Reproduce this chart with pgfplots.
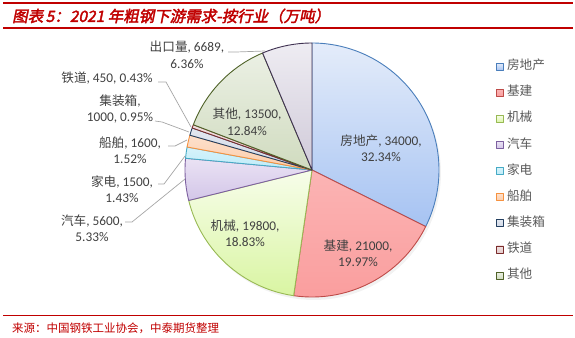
\documentclass[border=0pt]{standalone}
\usepackage{pgfplots}
\pgfplotsset{compat=1.18}
\usepackage{fontspec}
\setmainfont{Carlito}
\newfontfamily\cjk{Noto Sans CJK SC}[Scale=0.95]
\newfontfamily\titlefont{Noto Sans CJK SC}[FakeSlant=0.2,FakeBold=2.5]
\newfontfamily\footfont{Noto Sans CJK SC}

\definecolor{titlered}{HTML}{C00000}
\definecolor{labgray}{HTML}{404040}
\definecolor{leggray}{HTML}{595959}
\definecolor{leader}{HTML}{A6A6A6}
% slice colours: top, bottom, border
\definecolor{aT}{HTML}{E4ECFA}\definecolor{aB}{HTML}{A6C3F2}\definecolor{aD}{HTML}{4A7EBB}
\definecolor{bT}{HTML}{FBB4B4}\definecolor{bB}{HTML}{FA9E9E}\definecolor{bD}{HTML}{BE4B48}
\definecolor{cT}{HTML}{F7FDEA}\definecolor{cB}{HTML}{D9F5A2}\definecolor{cD}{HTML}{98B954}
\definecolor{dT}{HTML}{EAE2F4}\definecolor{dB}{HTML}{D3C6E8}\definecolor{dD}{HTML}{7D60A0}
\definecolor{eT}{HTML}{D6F3FB}\definecolor{eB}{HTML}{BDEBF8}\definecolor{eD}{HTML}{46AAC5}
\definecolor{fT}{HTML}{FDE0CC}\definecolor{fB}{HTML}{FCCCA8}\definecolor{fD}{HTML}{F69240}
\definecolor{gT}{HTML}{E2E7F0}\definecolor{gB}{HTML}{D0D8E6}\definecolor{gD}{HTML}{254061}
\definecolor{hT}{HTML}{F0E0E0}\definecolor{hB}{HTML}{E4CCCC}\definecolor{hD}{HTML}{7B2C2C}
\definecolor{iT}{HTML}{EBF0E4}\definecolor{iB}{HTML}{D0DBBF}\definecolor{iD}{HTML}{4F6228}
\definecolor{jT}{HTML}{EEECF2}\definecolor{jB}{HTML}{D0CAD9}\definecolor{jD}{HTML}{3F3151}

% values (10k tonnes)
\def\vA{34000}\def\vB{21000}\def\vC{19800}\def\vD{5600}\def\vE{1500}
\def\vF{1600}\def\vG{1000}\def\vH{450}\def\vI{13500}\def\vJ{6689}
\edef\T{\fpeval{\vA+\vB+\vC+\vD+\vE+\vF+\vG+\vH+\vI+\vJ}}
\edef\sA{90}
\edef\sB{\fpeval{\sA-\vA/\T*360}}
\edef\sC{\fpeval{\sB-\vB/\T*360}}
\edef\sD{\fpeval{\sC-\vC/\T*360}}
\edef\sE{\fpeval{\sD-\vD/\T*360}}
\edef\sF{\fpeval{\sE-\vE/\T*360}}
\edef\sG{\fpeval{\sF-\vF/\T*360}}
\edef\sH{\fpeval{\sG-\vG/\T*360}}
\edef\sI{\fpeval{\sH-\vH/\T*360}}
\edef\sJ{\fpeval{\sI-\vI/\T*360}}
\edef\sK{\fpeval{\sJ-\vJ/\T*360}}

\def\cx{312}\def\cy{170}\def\R{127}

\begin{document}
\begin{tikzpicture}
\useasboundingbox (0,0) rectangle (575pt,337pt);
\begin{axis}[
  at={(0,0)}, anchor=south west,
  scale only axis, width=575pt, height=337pt,
  xmin=0, xmax=575, ymin=0, ymax=337, y dir=reverse,
  hide axis, clip=false,
  legend image code/.code={\draw[#1,line width=0.8pt] (0pt,-3.5pt) rectangle (7pt,3.5pt);},
  legend style={draw=none, fill=none, at={(axis cs:496,60)}, anchor=north west,
    inner sep=0pt, row sep=13.1pt,
    nodes={inner sep=0pt, text height=9.5pt, text depth=3.5pt, anchor=west},
    font=\cjk\fontsize{13.3}{15}\selectfont, text=leggray,
    /tikz/every odd column/.append style={column sep=3pt}},
  legend cell align=left,
]
% shadow
\addplot[draw=none, fill=black, fill opacity=0.05, domain=0:360, samples=90, forget plot]
  ({\cx+\R*cos(x)+2},{\cy+3-\R*sin(x)});
\newcommand\slice[5]{%
  \addplot[top color=#3T, bottom color=#3B, draw=#3D, line width=0.9pt, line join=round,
     domain=#2:#1, samples=80, #5]
     ({\cx+\R*cos(x)},{\cy-\R*sin(x)}) -- (axis cs:\cx,\cy) -- cycle;
  #4}
\slice{\sA}{\sB}{a}{\addlegendentry{房地产}}{}
\slice{\sB}{\sC}{b}{\addlegendentry{基建}}{}
\slice{\sC}{\sD}{c}{\addlegendentry{机械}}{}
\slice{\sD}{\sE}{d}{\addlegendentry{汽车}}{}
\slice{\sE}{\sF}{e}{\addlegendentry{家电}}{}
\slice{\sF}{\sG}{f}{\addlegendentry{船舶}}{}
\slice{\sG}{\sH}{g}{\addlegendentry{集装箱}}{}
\slice{\sH}{\sI}{h}{\addlegendentry{铁道}}{}
\slice{\sI}{\sJ}{i}{\addlegendentry{其他}}{}
\slice{\sJ}{\sK}{j}{}{forget plot}

% leader lines
\addplot[leader, line width=0.7pt, forget plot] coordinates {(228,52) (236,52) (265,51)};
\addplot[leader, line width=0.7pt, forget plot] coordinates {(158,82) (166,82) (191,127)};
\addplot[leader, line width=0.7pt, forget plot] coordinates {(155,121) (162,122) (189,132)};
\addplot[leader, line width=0.7pt, forget plot] coordinates {(168,146) (175,146) (187,140)};
\addplot[leader, line width=0.7pt, forget plot] coordinates {(158,184) (164,184) (185,156)};
\addplot[leader, line width=0.7pt, forget plot] coordinates {(125,222) (132,222) (185,179)};

% title / rules
\addplot[titlered, line width=2pt, forget plot] coordinates {(3,3) (573,3)};
\addplot[titlered, line width=1.8pt, forget plot] coordinates {(3,28) (573,28)};
\addplot[titlered, line width=1pt, forget plot] coordinates {(3,315) (573,315)};

\tikzset{lab/.style={align=center, text=labgray, font=\fontsize{13.3}{16.5}\selectfont, inner sep=0pt}}
\node[lab] at (axis cs:381,148) {{\cjk 房地产}, 34000,\\32.34\%};
\node[lab] at (axis cs:358,253) {{\cjk 基建}, 21000,\\19.97\%};
\node[lab] at (axis cs:245,233) {{\cjk 机械}, 19800,\\18.83\%};
\node[lab] at (axis cs:247,122) {{\cjk 其他}, 13500,\\12.84\%};
\node[lab] at (axis cs:187,55) {{\cjk 出口量}, 6689,\\6.36\%};
\node[lab] at (axis cs:107,78) {{\cjk 铁道}, 450, 0.43\%};
\node[lab] at (axis cs:120,109) {{\cjk 集装箱},\\1000, 0.95\%};
\node[lab] at (axis cs:130,150) {{\cjk 船舶}, 1600,\\1.52\%};
\node[lab] at (axis cs:122,189) {{\cjk 家电}, 1500,\\1.43\%};
\node[lab] at (axis cs:92,228) {{\cjk 汽车}, 5600,\\5.33\%};

\node[anchor=west, inner sep=0pt, text=titlered, font=\titlefont\fontsize{15.5}{17}\selectfont]
  at (axis cs:12,16) {图表\,5：2021 年粗钢下游需求-按行业（万吨）};
\node[anchor=west, inner sep=0pt, text=titlered, font=\footfont\fontsize{11.5}{13}\selectfont]
  at (axis cs:12,328) {来源：中国钢铁工业协会，中泰期货整理};
\end{axis}
\end{tikzpicture}
\end{document}
